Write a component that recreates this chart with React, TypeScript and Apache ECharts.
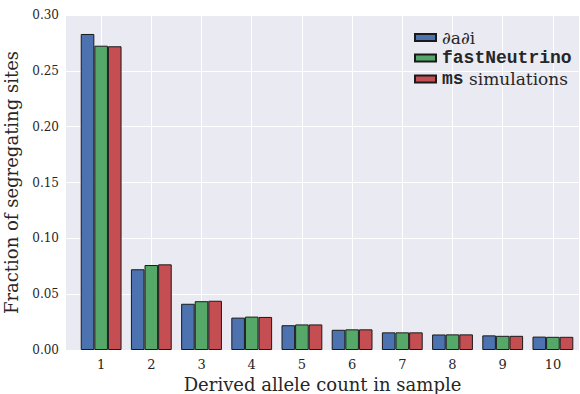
import React, { useEffect, useRef } from "react";
import * as echarts from "echarts";

// Derived allele counts shown on the x axis
const counts = [1, 2, 3, 4, 5, 6, 7, 8, 9, 10];

// Fraction of segregating sites per derived allele count
const dadiValues = [0.283, 0.0723, 0.0414, 0.029, 0.0222, 0.0181, 0.0158, 0.0139, 0.0131, 0.012];
const fastNeutrinoValues = [0.2725, 0.0761, 0.0437, 0.0299, 0.0229, 0.0185, 0.0158, 0.014, 0.0127, 0.0118];
const msValues = [0.272, 0.0767, 0.0441, 0.0296, 0.0229, 0.0185, 0.0158, 0.014, 0.0127, 0.0118];

const yTicks = [0, 0.05, 0.1, 0.15, 0.2, 0.25, 0.3];

const SERIF = "'DejaVu Serif', 'Liberation Serif', serif";
const MONO = "'Liberation Mono', 'DejaVu Sans Mono', monospace";
const TEXT = "#262626";

const seriesDefs = [
  { name: "∂a∂i", values: dadiValues, color: "#4C72B0" },
  { name: "fastNeutrino", values: fastNeutrinoValues, color: "#55A868" },
  { name: "ms simulations", values: msValues, color: "#C44E52" },
];

export default function App() {
  const ref = useRef<HTMLDivElement>(null);

  useEffect(() => {
    if (!ref.current) return;
    const chart = echarts.init(ref.current, undefined, { renderer: "svg" });

    chart.setOption({
      animation: false,
      backgroundColor: "#ffffff",
      grid: {
        left: 66,
        right: 1,
        top: 15,
        bottom: 44,
        show: true,
        backgroundColor: "#EAEAF2",
        borderWidth: 0,
        outerBoundsMode: "none",
        containLabel: false,
      },
      legend: {
        orient: "vertical",
        left: 409,
        top: 24,
        itemWidth: 21,
        itemHeight: 7,
        itemGap: 3,
        icon: "rect",
        data: seriesDefs.map((s) => s.name),
        formatter: (name: string) => {
          if (name === "fastNeutrino") return "{mono|fastNeutrino}";
          if (name === "ms simulations") return "{mono|ms}{serif| simulations}";
          return "{serif|" + name + "}";
        },
        textStyle: {
          color: TEXT,
          padding: [0, 0, 0, 1],
          rich: {
            serif: { fontFamily: SERIF, fontSize: 17, color: TEXT, lineHeight: 17 },
            mono: { fontFamily: MONO, fontSize: 18, fontWeight: "bold", color: TEXT, lineHeight: 17 },
          },
        },
      },
      xAxis: {
        type: "value",
        min: 0.3,
        max: 10.52,
        name: "Derived allele count in sample",
        nameLocation: "middle",
        nameGap: 24,
        nameTextStyle: { fontFamily: SERIF, fontSize: 18, color: TEXT },
        axisLine: { show: false },
        axisTick: { show: false, customValues: counts },
        axisLabel: {
          customValues: counts,
          fontFamily: SERIF,
          fontSize: 13,
          color: TEXT,
          margin: 8,
        },
        splitLine: { show: true, lineStyle: { color: "#ffffff", width: 1 } },
      },
      yAxis: {
        type: "value",
        min: 0,
        max: 0.3,
        interval: 0.05,
        name: "Fraction of segregating sites",
        nameLocation: "middle",
        nameGap: 46,
        nameTextStyle: { fontFamily: SERIF, fontSize: 18, color: TEXT },
        axisLine: { show: false },
        axisTick: { show: false },
        axisLabel: {
          customValues: yTicks,
          formatter: (v: number) => v.toFixed(2),
          fontFamily: SERIF,
          fontSize: 12,
          color: TEXT,
          margin: 7,
        },
        splitLine: { show: true, lineStyle: { color: "#ffffff", width: 1 } },
      },
      series: seriesDefs.map((s) => ({
        type: "bar",
        name: s.name,
        data: s.values.map((v, i) => [counts[i], v]),
        barWidth: 13.6,
        barGap: "0%",
        itemStyle: { color: s.color, borderColor: "#1a1a1a", borderWidth: 1 },
      })),
    });

    return () => chart.dispose();
  }, []);

  return <div ref={ref} style={{ width: 580, height: 394, position: "absolute", left: 0, top: 0 }} />;
}
